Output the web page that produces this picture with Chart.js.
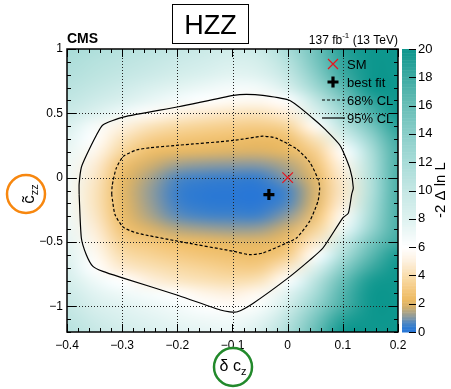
<!DOCTYPE html>
<html>
<head>
<meta charset="utf-8">
<script src="https://cdn.jsdelivr.net/npm/chart.js@4.4.1/dist/chart.umd.min.js"></script>
<style>
  html, body { margin: 0; padding: 0; background: #fff; }
  #wrap { width: 451px; height: 389px; }
</style>
</head>
<body>
<div id="wrap"><canvas id="scan" width="451" height="389"></canvas></div>
<script>
const FONT = '"Liberation Sans", Arial, Helvetica, sans-serif';

// grid nodes of the -2 delta lnL scan
const xNodes = [-0.4, -0.35, -0.3, -0.25, -0.2, -0.15, -0.1, -0.05, 0, 0.05, 0.1, 0.15, 0.2];
const yNodes = [1.0, 0.9, 0.8, 0.7, 0.6, 0.5, 0.4, 0.3, 0.2, 0.1, 0.0, -0.1, -0.2, -0.3, -0.4, -0.5, -0.6, -0.7, -0.8, -0.9, -1.0, -1.1, -1.2];
const deltaNLL = [
  [12.0, 11.5, 11.0, 10.5, 10.0, 9.5, 9.0, 9.5, 12.0, 15.5, 19.0, 21.0, 22.0],
  [11.6, 11.0, 10.5, 10.0, 9.4, 8.9, 8.4, 8.8, 11.0, 15.0, 18.5, 21.0, 22.0],
  [11.2, 10.6, 10.0, 9.4, 8.8, 8.2, 7.7, 8.0, 10.0, 14.0, 18.0, 20.5, 22.0],
  [10.7, 10.0, 9.2, 8.4, 7.7, 7.1, 6.6, 6.8, 8.5, 12.5, 16.5, 20.0, 22.0],
  [10.2, 9.2, 8.3, 7.4, 6.6, 6.05, 5.7, 5.6, 6.1, 10.0, 14.5, 18.5, 21.0],
  [9.4, 8.1, 6.9, 5.8, 5.1, 4.7, 4.4, 4.3, 4.9, 8.0, 12.5, 17.0, 20.0],
  [8.4, 6.5, 5.1, 4.3, 3.8, 3.5, 3.3, 3.2, 3.6, 5.8, 10.5, 15.0, 19.0],
  [7.7, 6.0, 4.3, 3.3, 2.9, 2.7, 2.55, 2.35, 2.6, 4.3, 8.0, 13.0, 18.0],
  [7.3, 5.5, 3.6, 2.5, 2.2, 2.1, 2.0, 1.95, 2.2, 3.3, 6.0, 11.5, 17.5],
  [7.0, 4.9, 2.7, 1.8, 1.3, 1.15, 1.1, 1.1, 1.5, 2.7, 5.3, 11.0, 17.5],
  [6.9, 4.6, 2.3, 1.4, 0.7, 0.5, 0.45, 0.45, 1.05, 2.2, 4.8, 11.0, 17.5],
  [6.8, 4.4, 2.2, 1.2, 0.45, 0.25, 0.18, 0.05, 0.6, 2.0, 4.6, 11.0, 17.5],
  [6.8, 4.4, 2.25, 1.25, 0.5, 0.3, 0.25, 0.15, 0.7, 2.1, 4.9, 11.5, 17.5],
  [7.0, 4.6, 2.4, 1.45, 0.8, 0.6, 0.55, 0.55, 1.15, 2.7, 5.7, 12.0, 17.5],
  [7.2, 4.9, 2.8, 2.0, 1.5, 1.3, 1.2, 1.25, 1.85, 3.5, 7.0, 13.0, 17.5],
  [7.5, 5.3, 3.4, 2.9, 2.5, 2.3, 2.15, 2.1, 2.55, 4.6, 9.5, 15.0, 18.0],
  [7.9, 5.7, 4.0, 3.5, 3.1, 2.8, 2.6, 2.5, 3.2, 6.0, 11.5, 16.5, 19.5],
  [8.3, 6.0, 4.7, 4.2, 3.8, 3.5, 3.2, 3.2, 4.6, 8.0, 14.0, 18.0, 20.5],
  [8.8, 7.0, 6.0, 5.0, 4.5, 4.2, 4.0, 4.3, 6.2, 10.5, 16.0, 19.5, 21.0],
  [9.4, 7.8, 7.0, 6.5, 5.9, 5.3, 5.0, 5.6, 7.8, 12.0, 17.0, 20.0, 22.0],
  [10.0, 8.5, 7.8, 7.2, 6.7, 6.1, 5.8, 6.5, 9.0, 13.5, 17.5, 20.5, 22.0],
  [10.5, 9.2, 8.4, 7.8, 7.3, 6.9, 6.8, 7.5, 10.5, 15.0, 19.0, 21.0, 22.0],
  [11.0, 9.8, 8.9, 8.3, 7.8, 7.5, 7.2, 8.5, 11.5, 16.0, 20.0, 22.0, 22.0],
];

// 68% CL contour (dashed)
const cl68X = [-0.319, -0.318, -0.311, -0.298, -0.274, -0.25, -0.198, -0.098, -0.045, -0.021, 0.016, 0.040, 0.055, 0.058, 0.055, 0.040, 0.016, -0.002, -0.045, -0.069, -0.098, -0.198, -0.274, -0.298, -0.313, -0.319];
const cl68Y = [-0.13, -0.06, 0.07, 0.165, 0.215, 0.232, 0.252, 0.289, 0.322, 0.307, 0.224, 0.12, -0.01, -0.078, -0.182, -0.338, -0.469, -0.508, -0.586, -0.599, -0.573, -0.495, -0.43, -0.385, -0.287, -0.13];
// 95% CL contour (solid)
const cl95X = [-0.378, -0.378, -0.374, -0.365, -0.347, -0.335, -0.298, -0.198, -0.098, -0.075, -0.045, 0.004, 0.046, 0.068, 0.095, 0.113, 0.119, 0.116, 0.110, 0.100, 0.064, 0.040, -0.002, -0.063, -0.091, -0.105, -0.122, -0.198, -0.298, -0.335, -0.353, -0.365, -0.374, -0.378];
const cl95Y = [-0.13, -0.05, 0.08, 0.172, 0.328, 0.41, 0.471, 0.551, 0.64, 0.648, 0.64, 0.60, 0.46, 0.375, 0.25, 0.068, -0.078, -0.13, -0.276, -0.3125, -0.547, -0.641, -0.789, -0.978, -1.043, -1.043, -1.029, -0.916, -0.781, -0.729, -0.690, -0.599, -0.469, -0.13];

const smPoint = [{ x: 0, y: 0 }];
const bestFit = [{ x: -0.034, y: -0.132 }];

const xTicks = [-0.4, -0.3, -0.2, -0.1, 0, 0.1, 0.2];
const yTicks = [-1, -0.5, 0, 0.5, 1];
const zTicks = [0, 2, 4, 6, 8, 10, 12, 14, 16, 18, 20];

const legendItems = ['SM', 'best fit', '68% CL', '95% CL'];

// colour palette (value -> rgb)
const paletteStops = [
  [0.0, [40, 118, 215]], [0.3, [45, 122, 210]], [0.7, [80, 136, 192]], [1.0, [128, 150, 165]],
  [1.4, [170, 163, 135]], [1.8, [210, 175, 108]], [2.3, [236, 186, 98]], [3.0, [244, 200, 126]],
  [4.0, [249, 221, 172]], [5.0, [253, 240, 222]], [6.0, [255, 255, 255]], [8.0, [222, 242, 240]],
  [10, [196, 231, 228]], [12, [168, 220, 216]], [14, [138, 206, 201]], [16, [104, 190, 183]],
  [18, [62, 170, 162]], [20, [14, 151, 142]],
];

function paletteColor(v) {
  if (v <= paletteStops[0][0]) return paletteStops[0][1];
  for (let i = 1; i < paletteStops.length; i++) {
    const [v1, c1] = paletteStops[i];
    if (v <= v1) {
      const [v0, c0] = paletteStops[i - 1];
      const t = (v - v0) / (v1 - v0);
      return c0.map((c, k) => Math.round(c + (c1[k] - c) * t));
    }
  }
  return paletteStops[paletteStops.length - 1][1];
}

const fmtTick = (v) => {
  const r = Math.round(v * 10) / 10;
  if (r === 0) return '0';
  return (r < 0 ? '\u2212' : '') + Math.abs(r);
};

const heatmapPlugin = {
  id: 'heatmap',
  beforeDatasetsDraw(chart) {
    const { ctx, chartArea: a, scales: { x, y } } = chart;
    const nx = xNodes.length, ny = yNodes.length;
    const off = document.createElement('canvas');
    off.width = nx; off.height = ny;
    const octx = off.getContext('2d');
    const img = octx.createImageData(nx, ny);
    deltaNLL.forEach((row, j) => row.forEach((v, i) => {
      const c = paletteColor(v);
      const k = (j * nx + i) * 4;
      img.data[k] = c[0]; img.data[k + 1] = c[1]; img.data[k + 2] = c[2]; img.data[k + 3] = 255;
    }));
    octx.putImageData(img, 0, 0);
    const hx = (xNodes[1] - xNodes[0]) / 2, hy = (yNodes[0] - yNodes[1]) / 2;
    const left = x.getPixelForValue(xNodes[0] - hx), right = x.getPixelForValue(xNodes[nx - 1] + hx);
    const top = y.getPixelForValue(yNodes[0] + hy), bottom = y.getPixelForValue(yNodes[ny - 1] - hy);

    ctx.save();
    ctx.beginPath();
    ctx.rect(a.left, a.top, a.right - a.left, a.bottom - a.top);
    ctx.clip();
    ctx.imageSmoothingEnabled = true;
    ctx.imageSmoothingQuality = 'high';
    ctx.drawImage(off, left, top, right - left, bottom - top);

    // dotted grid at major ticks
    ctx.strokeStyle = '#222';
    ctx.lineWidth = 1;
    ctx.setLineDash([1, 2]);
    for (const v of xTicks) {
      const px = Math.round(x.getPixelForValue(v)) + 0.5;
      if (px <= a.left + 1 || px >= a.right - 1) continue;
      ctx.beginPath(); ctx.moveTo(px, a.top); ctx.lineTo(px, a.bottom); ctx.stroke();
    }
    for (const v of yTicks) {
      const py = Math.round(y.getPixelForValue(v)) + 0.5;
      if (py <= a.top + 1 || py >= a.bottom - 1) continue;
      ctx.beginPath(); ctx.moveTo(a.left, py); ctx.lineTo(a.right, py); ctx.stroke();
    }
    ctx.restore();
  },
  afterDatasetsDraw(chart) {
    const { ctx, chartArea: a, scales: { x, y } } = chart;
    ctx.save();
    ctx.strokeStyle = '#000';
    ctx.lineWidth = 1;
    // ticks on all four sides, ROOT style
    for (let i = 0; i <= 30; i++) {
      const v = -0.4 + i * 0.02;
      const px = Math.round(x.getPixelForValue(v)) + 0.5;
      const len = i % 5 === 0 ? 8 : 4;
      ctx.beginPath();
      ctx.moveTo(px, a.bottom); ctx.lineTo(px, a.bottom - len);
      ctx.moveTo(px, a.top); ctx.lineTo(px, a.top + len);
      ctx.stroke();
    }
    for (let i = 0; i <= 22; i++) {
      const v = -1.2 + i * 0.1;
      const py = Math.round(y.getPixelForValue(v)) + 0.5;
      const len = (i - 2) % 5 === 0 ? 9 : 4;
      ctx.beginPath();
      ctx.moveTo(a.left, py); ctx.lineTo(a.left + len, py);
      ctx.moveTo(a.right, py); ctx.lineTo(a.right - len, py);
      ctx.stroke();
    }
    ctx.lineWidth = 1.5;
    ctx.strokeRect(a.left, a.top, a.right - a.left, a.bottom - a.top);

    // legend inside the frame
    const mx = 333, tx = 347, rows = [64, 82, 100, 118];
    ctx.font = `13px ${FONT}`;
    ctx.fillStyle = '#000';
    ctx.textAlign = 'left';
    ctx.textBaseline = 'middle';
    legendItems.forEach((label, i) => ctx.fillText(label, tx, rows[i] + 1));
    ctx.strokeStyle = '#e8141c';
    ctx.lineWidth = 1.2;
    ctx.beginPath();
    ctx.moveTo(mx - 5, rows[0] - 5); ctx.lineTo(mx + 5, rows[0] + 5);
    ctx.moveTo(mx - 5, rows[0] + 5); ctx.lineTo(mx + 5, rows[0] - 5);
    ctx.stroke();
    ctx.strokeStyle = '#000';
    ctx.lineWidth = 3.2;
    ctx.beginPath();
    ctx.moveTo(mx - 5.5, rows[1]); ctx.lineTo(mx + 5.5, rows[1]);
    ctx.moveTo(mx, rows[1] - 5.5); ctx.lineTo(mx, rows[1] + 5.5);
    ctx.stroke();
    ctx.lineWidth = 1.2;
    ctx.setLineDash([3, 2]);
    ctx.beginPath(); ctx.moveTo(322, rows[2]); ctx.lineTo(345, rows[2]); ctx.stroke();
    ctx.setLineDash([]);
    ctx.beginPath(); ctx.moveTo(322, rows[3]); ctx.lineTo(345, rows[3]); ctx.stroke();
    ctx.restore();
  },
  afterDraw(chart) {
    const { ctx, chartArea: a, scales: { z } } = chart;
    ctx.save();
    // colour bar
    const bx = 402, bw = 14;
    for (let v = 0; v < 20; v += 0.1) {
      const c = paletteColor(v + 0.05);
      const y0 = z.getPixelForValue(v), y1 = z.getPixelForValue(v + 0.1);
      ctx.fillStyle = `rgb(${c[0]},${c[1]},${c[2]})`;
      ctx.fillRect(bx, y1, bw, y0 - y1 + 0.5);
    }
    ctx.strokeStyle = '#000';
    ctx.lineWidth = 1;
    for (const v of zTicks) {
      const py = Math.round(z.getPixelForValue(v)) + 0.5;
      ctx.beginPath(); ctx.moveTo(bx + 7, py); ctx.lineTo(bx + bw, py); ctx.stroke();
    }
    // z title
    ctx.fillStyle = '#000';
    ctx.font = `15px ${FONT}`;
    ctx.textAlign = 'center';
    ctx.textBaseline = 'middle';
    ctx.translate(441, 190);
    ctx.rotate(-Math.PI / 2);
    ctx.fillText('-2 \u0394 ln L', 0, 0);
    ctx.setTransform(1, 0, 0, 1, 0, 0);

    // CMS label and luminosity
    ctx.textBaseline = 'alphabetic';
    ctx.textAlign = 'left';
    ctx.font = `bold 14px ${FONT}`;
    ctx.fillText('CMS', a.left, 43);
    ctx.font = `12px ${FONT}`;
    const p1 = '137 fb', p3 = ' (13 TeV)';
    ctx.font = `8px ${FONT}`;
    const w2 = ctx.measureText('-1').width;
    ctx.font = `12px ${FONT}`;
    const w1 = ctx.measureText(p1).width, w3 = ctx.measureText(p3).width;
    let lx = a.right - (w1 + w2 + w3);
    ctx.fillText(p1, lx, 44);
    ctx.font = `8px ${FONT}`;
    ctx.fillText('-1', lx + w1, 38);
    ctx.font = `12px ${FONT}`;
    ctx.fillText(p3, lx + w1 + w2, 44);

    // HZZ title box
    ctx.fillStyle = '#fff';
    ctx.fillRect(172.5, 4.5, 76, 39);
    ctx.strokeStyle = '#000';
    ctx.lineWidth = 1;
    ctx.strokeRect(172.5, 4.5, 76, 39);
    ctx.fillStyle = '#000';
    ctx.font = `27px ${FONT}`;
    ctx.textAlign = 'center';
    ctx.fillText('HZZ', 210.5, 34);

    // axis titles inside circles
    ctx.lineWidth = 2.5;
    ctx.strokeStyle = '#f7870f';
    ctx.beginPath(); ctx.arc(26, 194, 19, 0, Math.PI * 2); ctx.stroke();
    ctx.strokeStyle = '#22892b';
    ctx.beginPath(); ctx.arc(233, 367, 19, 0, Math.PI * 2); ctx.stroke();

    ctx.fillStyle = '#000';
    ctx.textAlign = 'left';
    ctx.textBaseline = 'alphabetic';
    ctx.font = `16px ${FONT}`;
    const wd = ctx.measureText('\u03b4 c').width;
    ctx.font = `11px ${FONT}`;
    const wz = ctx.measureText('z').width;
    let sx = 233 - (wd + wz) / 2;
    ctx.font = `16px ${FONT}`;
    ctx.fillText('\u03b4 c', sx, 371);
    ctx.font = `11px ${FONT}`;
    ctx.fillText('z', sx + wd, 375);

    ctx.translate(31, 194);
    ctx.rotate(-Math.PI / 2);
    ctx.font = `17px ${FONT}`;
    const wc = ctx.measureText('c').width;
    ctx.font = `11px ${FONT}`;
    const wzz = ctx.measureText('zz').width;
    const cx0 = -(wc + wzz) / 2;
    ctx.font = `17px ${FONT}`;
    ctx.fillText('c\u0303', cx0, 3);
    ctx.font = `11px ${FONT}`;
    ctx.fillText('zz', cx0 + wc, 7);
    ctx.restore();
  },
};

const tickFont = { family: FONT, size: 12 };

new Chart(document.getElementById('scan'), {
  type: 'scatter',
  data: {
    datasets: [
      {
        label: '95% CL',
        data: cl95X.map((x, i) => ({ x, y: cl95Y[i] })),
        showLine: true, borderColor: '#000', borderWidth: 1.2, pointRadius: 0, tension: 0.2, fill: false,
      },
      {
        label: '68% CL',
        data: cl68X.map((x, i) => ({ x, y: cl68Y[i] })),
        showLine: true, borderColor: '#000', borderWidth: 1.2, borderDash: [3, 2], pointRadius: 0, tension: 0.2, fill: false,
      },
      {
        label: 'SM',
        data: smPoint,
        pointStyle: 'crossRot', pointRadius: 7.5, borderColor: '#e8141c', pointBorderColor: '#e8141c', pointBorderWidth: 1.2, borderWidth: 1.2,
      },
      {
        label: 'best fit',
        data: bestFit,
        pointStyle: 'cross', pointRadius: 5.5, borderColor: '#000', pointBorderColor: '#000', pointBorderWidth: 3.2, borderWidth: 3.2,
      },
    ],
  },
  options: {
    responsive: false,
    animation: false,
    devicePixelRatio: 1,
    layout: { padding: { top: 49, left: 0, right: 0, bottom: 0 } },
    plugins: { legend: { display: false }, tooltip: { enabled: false } },
    scales: {
      x: {
        type: 'linear', min: -0.4, max: 0.2,
        grid: { display: false, drawTicks: false, tickLength: 0 }, border: { display: false },
        afterBuildTicks: (s) => { s.ticks = xTicks.map((v) => ({ value: v })); },
        afterFit: (s) => { s.height = 57; },
        ticks: { callback: fmtTick, font: tickFont, color: '#000', padding: 6, maxRotation: 0, autoSkip: false },
      },
      y: {
        type: 'linear', position: 'left', min: -1.2, max: 1.0,
        grid: { display: false, drawTicks: false, tickLength: 0 }, border: { display: false },
        afterBuildTicks: (s) => { s.ticks = yTicks.map((v) => ({ value: v })); },
        afterFit: (s) => { s.width = 67; },
        ticks: { callback: fmtTick, font: tickFont, color: '#000', padding: 4, autoSkip: false },
      },
      z: {
        type: 'linear', axis: 'y', position: 'right', min: 0, max: 20,
        grid: { display: false, drawTicks: false, tickLength: 0 }, border: { display: false },
        afterBuildTicks: (s) => { s.ticks = zTicks.map((v) => ({ value: v })); },
        afterFit: (s) => { s.width = 53; },
        ticks: { font: { family: FONT, size: 13 }, color: '#000', padding: 20, autoSkip: false },
      },
    },
  },
  plugins: [heatmapPlugin],
});
</script>
</body>
</html>
